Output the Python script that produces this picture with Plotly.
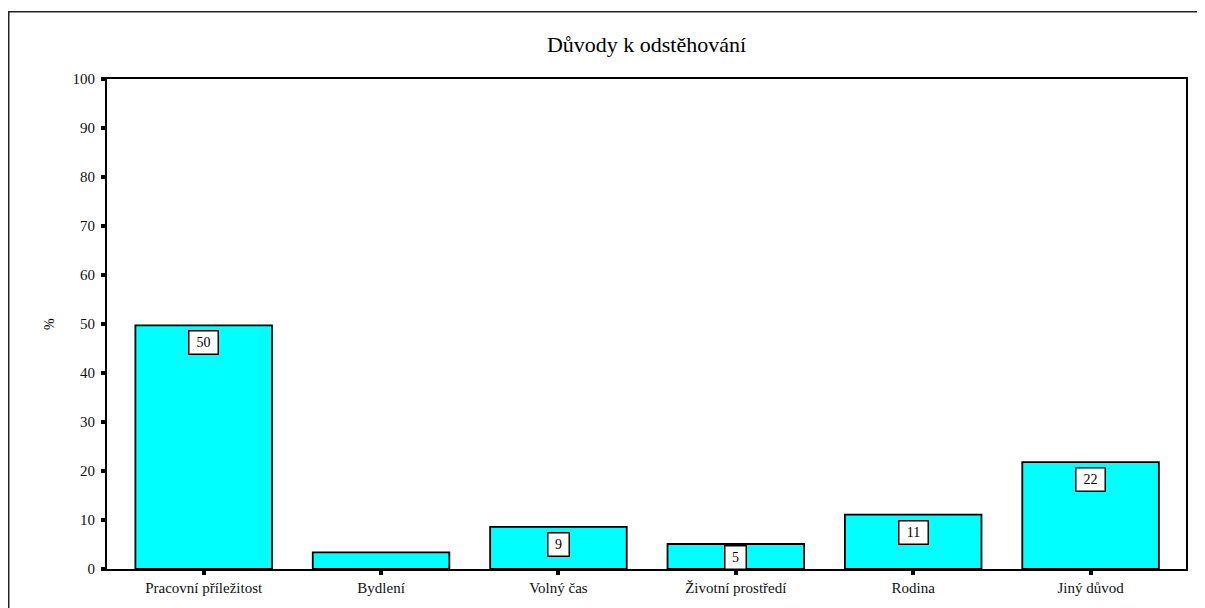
import plotly.graph_objects as go

# ---- data ----
categories = ["Pracovní příležitost", "Bydlení", "Volný čas",
              "Životní prostředí", "Rodina", "Jiný důvod"]
percent = [49.7, 3.4, 8.6, 5.1, 11.1, 21.8]
y_ticks = [0, 10, 20, 30, 40, 50, 60, 70, 80, 90, 100]
title_text = "Důvody k odstěhování"
y_title = "%"

# ---- layout constants (pixels; page body adds an 8px offset) ----
OFF = 8
W, H = 1205 - OFF, 608 - OFF
ML, MR, MT, MB = 107 - OFF, 19, 79 - OFF, 39
PW, PH = W - ML - MR, H - MT - MB
FONT = "Liberation Serif, Times New Roman, serif"
px_per_unit = PH / (y_ticks[-1] - y_ticks[0])
BOX_H = 23
GAP = 5

fig = go.Figure()
fig.add_trace(go.Bar(
    x=categories, y=percent, width=0.77,
    marker=dict(color="#00FFFF", line=dict(color="black", width=1.8)),
    hoverinfo="x+y",
))

annotations = []
for cat, v in zip(categories, percent):
    bar_px = v * px_per_unit
    if bar_px < BOX_H + 1:
        continue
    label = str(int(round(v)))
    shift = -min(GAP, bar_px - BOX_H - 1)
    annotations.append(dict(
        x=cat, y=v, xref="x", yref="y", text=label, showarrow=False,
        yanchor="top", xanchor="center", yshift=shift,
        bgcolor="white", bordercolor="black", borderwidth=1.5, borderpad=2,
        width=8 * len(label) + 8, height=BOX_H - 5,
        font=dict(family=FONT, size=14, color="black"),
    ))

annotations.append(dict(
    x=(49 - OFF - ML) / PW, y=0.5, xref="paper", yref="paper", text=y_title,
    showarrow=False, textangle=-90, xanchor="center", yanchor="middle",
    font=dict(family=FONT, size=14, color="black"),
))

frame_left, frame_top = 8 - OFF, 11 - OFF
shapes = [dict(
    type="rect", xref="paper", yref="paper",
    x0=(frame_left + 0.75 - ML) / PW, x1=(W + 10 - ML) / PW,
    y0=-(H + 10 - (H - MB)) / PH, y1=((H - MB) - frame_top - 0.75) / PH,
    line=dict(color="#222222", width=1.5), fillcolor="rgba(0,0,0,0)",
    layer="below",
)]

fig.update_layout(
    width=W, height=H,
    margin=dict(l=ML, r=MR, t=MT, b=MB, pad=0),
    paper_bgcolor="white", plot_bgcolor="white",
    showlegend=False,
    title=dict(text=title_text, x=(ML + PW / 2) / W, xanchor="center",
               y=1 - (44 - OFF) / H, yanchor="middle",
               font=dict(family=FONT, size=22, color="black")),
    font=dict(family=FONT, size=15, color="black"),
    annotations=annotations,
    shapes=shapes,
)
fig.update_xaxes(
    type="category", range=[-0.545, len(categories) - 1 + 0.538],
    showline=True, linecolor="black", linewidth=2, mirror=True,
    ticks="outside", ticklen=4, tickwidth=4, tickcolor="black",
    showgrid=False, zeroline=False,
    tickfont=dict(family=FONT, size=15, color="#111111"),
)
fig.update_yaxes(
    range=[y_ticks[0], y_ticks[-1]], tickvals=y_ticks,
    showline=True, linecolor="black", linewidth=2, mirror=True,
    ticks="outside", ticklen=4, tickwidth=4, tickcolor="black",
    ticklabelstandoff=3,
    showgrid=False, zeroline=False,
    tickfont=dict(family=FONT, size=15, color="#111111"),
)

fig.write_html("out.html")
